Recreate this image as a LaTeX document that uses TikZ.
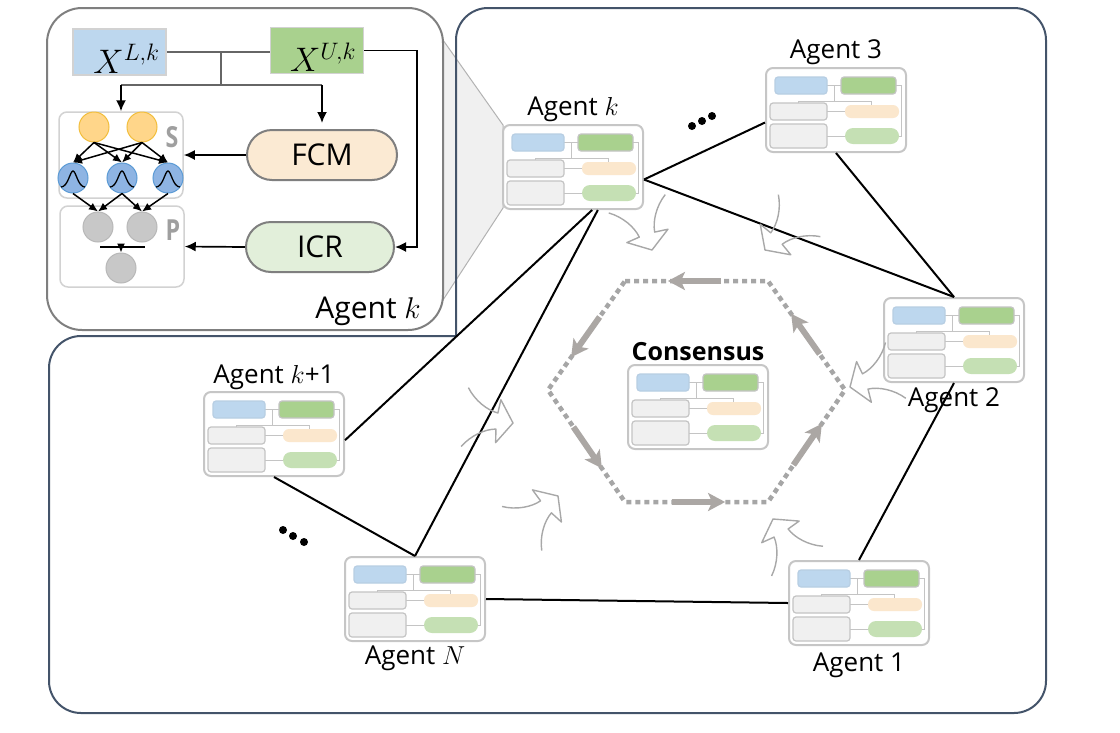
\RequirePackage{fix-cm}
\documentclass[tikz,border=0pt]{standalone}
\usepackage{fontspec}
\setmainfont{Open Sans}
\usepackage{amsmath}
\usepackage{tikz}
\usetikzlibrary{arrows.meta, positioning, calc}

\definecolor{framecol}{HTML}{44546A}
\definecolor{insetcol}{HTML}{7F7F7F}
\definecolor{iconframe}{HTML}{C6C6C6}
\definecolor{iconline}{HTML}{C4C4C4}
\definecolor{lowblue}{HTML}{BDD7EE}
\definecolor{upgreen}{HTML}{A9D18E}
\definecolor{cellgray}{HTML}{F0F0F0}
\definecolor{cellbeige}{HTML}{FBE7CD}
\definecolor{cellgreen}{HTML}{C5E0B4}
\definecolor{fcmfill}{HTML}{FBEAD3}
\definecolor{icrfill}{HTML}{E2EFDA}
\definecolor{yfill}{HTML}{FFD68A}
\definecolor{ydraw}{HTML}{F2BE3C}
\definecolor{bfill}{HTML}{8EB4E3}
\definecolor{bdraw}{HTML}{5B9BD5}
\definecolor{gfill}{HTML}{C8C8C8}
\definecolor{gdraw}{HTML}{B8B8B8}
\definecolor{ringgray}{HTML}{A6A6A6}
\definecolor{flowgray}{HTML}{ABA7A4}
\definecolor{curlgray}{HTML}{A8A8A8}

% small picture of one agent's model, #1 name, (#2,#3) top left corner
\newcommand{\minimodel}[3]{%
	\node[iconbox] (#1) at (#2+70,#3+42) {};
	\begin{scope}[shift={(#2,#3)}]
		\draw[iconwire] (61,17.5) -- (75,17.5) (68,17.5) -- (68,33)
			(32,37) -- (32,33) -- (105,33) -- (105,37)
			(130,17.5) -- (135,17.5) -- (135,68) -- (133,68)
			(61,43.5) -- (79,43.5) (61,68) -- (79,68);
		\filldraw[iconpart, draw=lowblue!90!gray, fill=lowblue] (9,9) rectangle (61,26);
		\filldraw[iconpart, fill=upgreen] (75,9) rectangle (130,26);
		\filldraw[iconpart, fill=cellgray] (4,35) rectangle (61,52);
		\filldraw[iconpart, fill=cellgray] (4,56) rectangle (61,80);
		\fill[cellbeige, rounded corners=6pt] (79,37) rectangle (133,50);
		\fill[cellgreen, rounded corners=8pt] (79,60) rectangle (133,76);
	\end{scope}}

% hollow bent arrow, tip at (#1,#2), pointing at angle #3
\newcommand{\bendarrow}[3]{%
	\draw[curl, shift={(#1,#2)}, rotate=#3, scale=1.35] (-36,22) .. controls (-30,13) and (-20,7) .. (-12,6)
		-- (-11,16) -- (0,0) -- (-11,-16) -- (-12,-6) .. controls (-20,-7) and (-30,-13) .. (-36,-22);}

\begin{document}
\begin{tikzpicture}[x=1pt, y=-1pt, >={Latex[length=11pt,width=10pt]},
	iconbox/.style={draw=iconframe, fill=white, line width=2pt, rounded corners=7pt, minimum width=140pt, minimum height=84pt, inner sep=0pt},
	iconwire/.style={draw=iconline, line width=1pt},
	iconpart/.style={draw=iconline, line width=1.2pt, rounded corners=3pt},
	agentname/.style={font=\fontsize{26}{30}\selectfont, inner sep=1pt},
	link/.style={line width=2pt},
	curl/.style={draw=curlgray, line width=1.4pt, line join=round},
	ring/.style={draw=ringgray, line width=4.5pt, dash pattern=on 5pt off 4pt},
	flow/.style={draw=flowgray, line width=6pt, -{Stealth[length=17pt,width=18pt,inset=4pt]}},
	inbox/.style={draw=gray!35, line width=1.5pt, minimum width=93pt, minimum height=46pt, inner sep=0pt, text height=42pt, text depth=0pt, font=\fontsize{34}{40}\selectfont},
	layerbox/.style={draw=gray!35, line width=1.5pt, rounded corners=8pt, minimum width=124pt, inner sep=0pt},
	pill/.style={draw=insetcol, line width=2pt, rounded corners=25pt, minimum width=150pt, minimum height=50pt, font=\fontsize{30}{34}\selectfont},
	ycirc/.style={circle, draw=ydraw, fill=yfill, line width=1pt, minimum size=30pt, inner sep=0pt},
	bcirc/.style={circle, draw=bdraw, fill=bfill, line width=1pt, minimum size=30pt, inner sep=0pt},
	gcirc/.style={circle, draw=gdraw, fill=gfill, line width=1pt, minimum size=30pt, inner sep=0pt},
	tag/.style={text=gray!75, font=\fontsize{29}{29}\selectfont\bfseries, inner sep=0pt, xscale=0.8},
	wire/.style={line width=1.7pt},
	small/.style={line width=1.5pt, -{Latex[length=9pt,width=8pt]}},
	bell/.style={line width=1.3pt}]
	\useasboundingbox (0,0) rectangle (1120,732);

	% zoom wedge
	\coordinate (W1) at (443,40);
	\coordinate (W2) at (503,125);
	\coordinate (W3) at (503,208);
	\coordinate (W4) at (443,300);
	\filldraw[fill=gray!12, draw=gray!60, line width=1pt] (W1) -- (W2) -- (W3) -- (W4) -- cycle;

	% outer frame
	\draw[framecol, line width=2pt, rounded corners=32pt] (456,336) -- (456,8) -- (1046,8) -- (1046,713) -- (49,713) -- (49,336) -- (456,336);

	% agents
	\minimodel{Ak}{503}{125}
	\minimodel{A3}{766}{68}
	\minimodel{A2}{884}{298}
	\minimodel{C}{628}{365}
	\minimodel{Akp}{204}{392}
	\minimodel{AN}{345}{557}
	\minimodel{A1}{789}{561}

	\node[agentname, above=1pt of Ak] (LAk) {Agent $k$};
	\node[agentname, above=1pt of A3] (LA3) {Agent 3};
	\node[agentname, below=3pt of A2] (LA2) {Agent 2};
	\node[agentname, below=6pt of A1] (LA1) {Agent 1};
	\node[agentname, below=3pt of AN] (LAN) {Agent $N$};
	\node[agentname, above=0pt of Akp] (LAkp) {Agent $k$+1};
	\node[font=\fontsize{25}{30}\selectfont\bfseries, inner sep=1pt, above=2pt of C] (LC) {Consensus};

	% links
	\draw[link] (Ak.-10) -- (A3.190);
	\draw[link] (Ak.-10) -- (A2.north);
	\draw[link] (A3.south) -- (A2.north);
	\draw[link] (A2.south) -- (A1.north);
	\draw[link] (A1.west) -- (AN.east);
	\draw[link] (AN.north) -- (Ak.-60);
	\draw[link] (Akp.-5) -- (Ak.-66);
	\draw[link] (Akp.south) -- (AN.north);

	\foreach \p in {(692,126),(702,121),(712,116),(283,530),(293,536),(304,542)}
		\fill \p circle[radius=4pt];

	% consensus ring
	\coordinate (H1) at (625,281);
	\coordinate (H2) at (768,281);
	\coordinate (H3) at (845,390);
	\coordinate (H4) at (768,502);
	\coordinate (H5) at (625,502);
	\coordinate (H6) at (548,390);
	\draw[ring] (H1) -- (H2) -- (H3) -- (H4) -- (H5) -- (H6) -- cycle;
	\foreach \a/\b in {H2/H1, H1/H6, H6/H5, H5/H4, H4/H3, H3/H2}
		\draw[flow] ($(\a)!0.33!(\b)$) -- ($(\a)!0.7!(\b)$);

	\bendarrow{652}{250}{-72}
	\bendarrow{765}{250}{-135}
	\bendarrow{850}{387}{200}
	\bendarrow{773}{519}{120}
	\bendarrow{558}{496}{42}
	\bendarrow{513}{423}{-7}

	% inside agent k
	\node[draw=insetcol, fill=white, line width=2pt, rounded corners=35pt, minimum width=396pt, minimum height=322pt] (Z) at (245,169) {};
	\node[font=\fontsize{30}{34}\selectfont, inner sep=0pt] (LZ) at (368,311) {Agent $k$};

	\node[inbox, fill=lowblue] (XL) at (119.5,52) {\hspace*{14pt}$X^{L,k}$};
	\node[inbox, fill=upgreen] (XU) at (317,50.5) {\hspace*{12pt}$X^{U,k}$};

	\node[layerbox, minimum height=86pt] (S) at (121,155) {};
	\node[layerbox, minimum height=81pt] (P) at (122,246.5) {};
	\node[tag] (St) at (172,137) {S};
	\node[tag] (Pt) at (173,230) {P};

	\node[ycirc] (Y1) at (94,127) {};
	\node[ycirc] (Y2) at (142,127) {};
	\node[bcirc] (B1) at (73,178) {};
	\node[bcirc] (B2) at (122,178) {};
	\node[bcirc] (B3) at (168,178) {};
	\node[gcirc] (G1) at (98,227) {};
	\node[gcirc] (G2) at (142,227) {};
	\node[gcirc] (G3) at (121,268) {};

	\foreach \b in {B1,B2,B3}
		\draw[bell, shift={(\b)}] (-12,9) .. controls (-5,9) and (-3,-7) .. (0,-7) .. controls (3,-7) and (5,9) .. (12,9);

	\foreach \y in {Y1,Y2}
		\foreach \b in {B1,B2,B3}
			\draw[small] (\y.south) -- (\b.north);
	\draw[small] (B1.south) -- (G1.north);
	\draw[small] (B2.south) -- (G1.north);
	\draw[small] (B2.south) -- (G2.north);
	\draw[small] (B3.south) -- (G2.north);
	\coordinate (T) at (121,247);
	\draw[wire] ([xshift=-21pt]T) -- ([xshift=24pt]T);
	\draw[small] (T) -- (G3.north);

	\node[pill, fill=fcmfill] (FCM) at (322,155) {FCM};
	\node[pill, fill=icrfill, minimum width=148pt] (ICR) at (320,247) {ICR};

	\coordinate (J) at (221,52);
	\coordinate (H) at (221,85);
	\draw[line width=1.2pt, gray!80!black] (XL.east) -- (XL.east -| XU.west);
	\draw[line width=1.2pt, gray!80!black] (J) -- (H);
	\draw[line width=1.2pt, gray!80!black] (S.north |- H) -- (FCM.north |- H);
	\draw[wire, ->] (S.north |- H) -- (S.north);
	\draw[wire, ->] (FCM.north |- H) -- ([yshift=6pt]FCM.north);
	\draw[wire, ->] (XU.east) -- ++(53,0) |- (ICR.east);
	\draw[wire, ->] (FCM.west) -- (S.east);
	\draw[wire, ->] (ICR.west) -- (P.east);
\end{tikzpicture}
\end{document}
